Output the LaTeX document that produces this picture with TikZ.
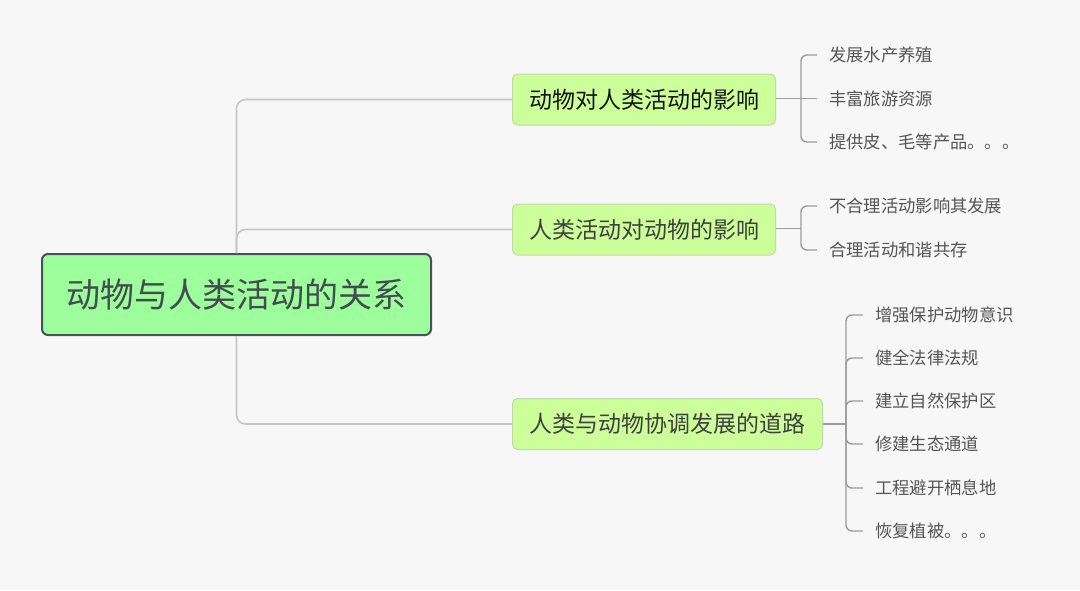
\documentclass[tikz,border=0pt]{standalone}
\usepackage{fontspec}
\newfontfamily\cjk{Noto Sans CJK SC}
\definecolor{bgc}{HTML}{F7F7F7}
\definecolor{rootfill}{HTML}{9CFF9C}
\definecolor{rootdraw}{HTML}{4A5058}
\definecolor{rootText}{HTML}{454B53}
\definecolor{brfill}{HTML}{CCFF99}
\definecolor{brdraw}{HTML}{C2D9A6}
\definecolor{trunkc}{HTML}{C6C6C6}
\definecolor{leafc}{HTML}{9C9C9C}
\definecolor{leaftext}{HTML}{555555}
\tikzset{
  rootbox/.style={draw=rootdraw, fill=rootfill, line width=2pt, rounded corners=6pt,
    minimum width=389pt, minimum height=81pt, inner sep=0pt, text=rootText,
    font=\cjk\fontsize{34}{40}\selectfont},
  brbox/.style={draw=brdraw, fill=brfill, line width=1pt, rounded corners=5pt,
    minimum height=51pt, inner sep=0pt, anchor=west, text=black!75,
    font=\cjk\fontsize{23}{27}\selectfont},
  leaf/.style={anchor=west, inner sep=0pt, inner xsep=12pt, text=leaftext,
    font=\cjk\fontsize{17.3}{20}\selectfont},
  trunk/.style={draw=trunkc, line width=1.6pt, rounded corners=9pt},
  twig/.style={draw=leafc, line width=1.4pt, rounded corners=6pt},
}
\begin{document}
\begin{tikzpicture}[x=1pt,y=-1pt]
\fill[bgc] (0,0) rectangle (1080,590);
\useasboundingbox (0,0) rectangle (1080,590);

\node[rootbox] (root) at (236.5,294.5) {动物与人类活动的关系};

\node[brbox, minimum width=263pt, text=black!92] (b1) at (512,99.5) {动物对人类活动的影响};
\node[brbox, minimum width=263pt] (b2) at (512,229.5) {人类活动对动物的影响};
\node[brbox, minimum width=310pt] (b3) at (512,424) {人类与动物协调发展的道路};

\draw[trunk] (root.north) |- (b1.west);
\draw[trunk] (root.north) |- (b2.west);
\draw[trunk] (root.south) |- (b3.west);

% branch 1 leaves
\coordinate (j1) at (801,98.5);
\node[leaf] (l11) at (817,55) {发展水产养殖};
\node[leaf] (l12) at (817,98.5) {丰富旅游资源};
\node[leaf] (l13) at (817,142) {提供皮、毛等产品。。。};
\draw[twig] (b1.east |- j1) -- (j1);
\draw[twig] (j1) |- (l11.west);
\draw[twig] (j1) -- (l12.west);
\draw[twig] (j1) |- (l13.west);

% branch 2 leaves
\coordinate (j2) at (801,228.5);
\node[leaf] (l21) at (817,206) {不合理活动影响其发展};
\node[leaf] (l22) at (817,250) {合理活动和谐共存};
\draw[twig] (b2.east |- j2) -- (j2);
\draw[twig] (j2) |- (l21.west);
\draw[twig] (j2) |- (l22.west);

% branch 3 leaves
\coordinate (j3) at (846,424);
\node[leaf] (l31) at (863,315) {增强保护动物意识};
\node[leaf] (l32) at (863,358) {健全法律法规};
\node[leaf] (l33) at (863,401) {建立自然保护区};
\node[leaf] (l34) at (863,444) {修建生态通道};
\node[leaf] (l35) at (863,488) {工程避开栖息地};
\node[leaf] (l36) at (863,531) {恢复植被。。。};
\draw[twig] (b3.east) -- (j3);
\foreach \l in {l31,l32,l33,l34,l35,l36} {
  \draw[twig] (j3) |- (\l.west);
}
\end{tikzpicture}
\end{document}
